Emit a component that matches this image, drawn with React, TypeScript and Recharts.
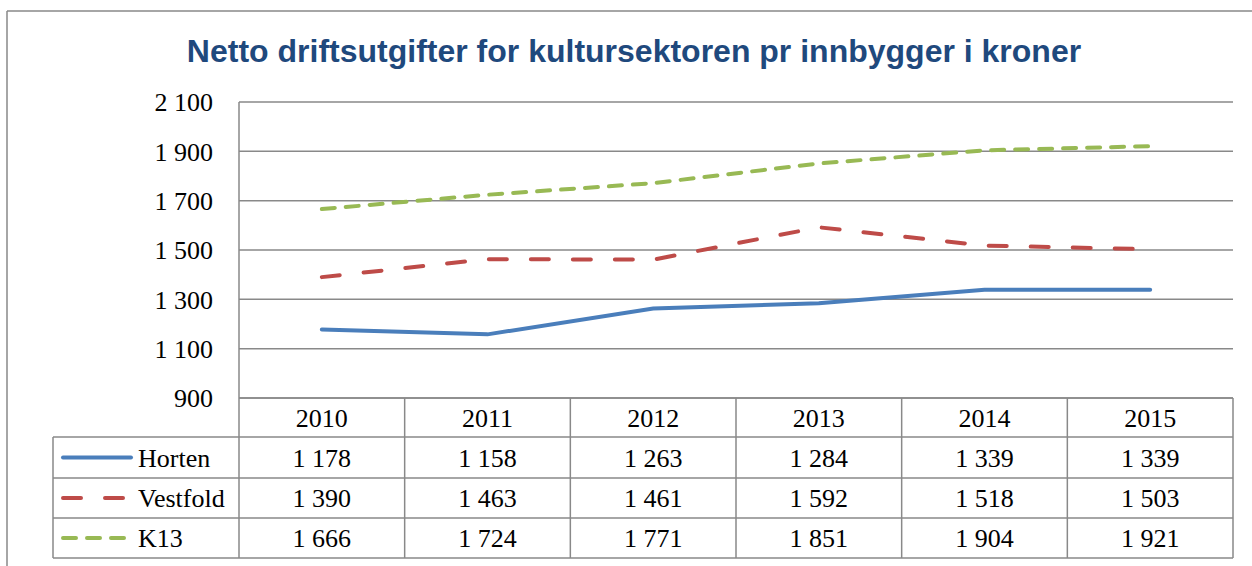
import React from 'react';
import { LineChart, Line, XAxis, YAxis, CartesianGrid } from 'recharts';

const years = ['2010', '2011', '2012', '2013', '2014', '2015'];
const horten = [1178, 1158, 1263, 1284, 1339, 1339];
const vestfold = [1390, 1463, 1461, 1592, 1518, 1503];
const k13 = [1666, 1724, 1771, 1851, 1904, 1921];
const yTicks = [900, 1100, 1300, 1500, 1700, 1900, 2100];
const title = 'Netto driftsutgifter for kultursektoren pr innbygger i kroner';

const series = [
  { key: 'Horten', values: horten, color: '#4A7EBB', dash: undefined as string | undefined },
  { key: 'Vestfold', values: vestfold, color: '#BE4B48', dash: '18 24' },
  { key: 'K13', values: k13, color: '#98B954', dash: '13 11' },
];

const data = years.map((y, i) => ({
  year: y,
  Horten: horten[i],
  Vestfold: vestfold[i],
  K13: k13[i],
}));

const fmt = (n: number) =>
  n >= 1000 ? `${Math.floor(n / 1000)} ${String(n % 1000).padStart(3, '0')}` : String(n);

const W = 1252;
const H = 566;
const PLOT_LEFT = 239;
const PLOT_RIGHT = 1233;
const PLOT_TOP = 102;
const PLOT_BOTTOM = 398;
const COL_W = (PLOT_RIGHT - PLOT_LEFT) / years.length;
const TABLE_LEFT = 53;
const ROW_Y = [398, 437, 478, 518, 558];
const GRID = '#898989';
const SERIF = '"Liberation Serif", "Times New Roman", serif';

export default function App() {
  return (
    <div style={{ position: 'relative', width: W, height: H, background: '#fff', overflow: 'hidden' }}>
      <style>{'body{margin:0}'}</style>
      <div style={{ position: 'absolute', left: 0, top: 0 }}>
        <LineChart
          width={W}
          height={H}
          data={data}
          margin={{ top: PLOT_TOP, right: W - PLOT_RIGHT, bottom: H - PLOT_BOTTOM, left: 0 }}
        >
          <CartesianGrid vertical={false} stroke={GRID} strokeWidth={1.5} />
          <XAxis dataKey="year" hide padding={{ left: COL_W / 2, right: COL_W / 2 }} />
          <YAxis
            width={PLOT_LEFT}
            domain={[900, 2100]}
            ticks={yTicks}
            interval={0}
            tickFormatter={fmt}
            tickLine={false}
            tickSize={0}
            tickMargin={26}
            axisLine={{ stroke: GRID, strokeWidth: 1.5 }}
            tick={{ fontFamily: SERIF, fontSize: 26, fill: '#000' }}
          />
          {series.map((s) => (
            <Line
              key={s.key}
              dataKey={s.key}
              stroke={s.color}
              strokeWidth={4}
              strokeDasharray={s.dash}
              strokeLinecap="round"
              dot={false}
              activeDot={false}
              type="linear"
              isAnimationActive={false}
            />
          ))}
        </LineChart>
      </div>
      <svg
        width={W}
        height={H}
        style={{ position: 'absolute', left: 0, top: 0, pointerEvents: 'none' }}
      >
        {/* outer frame */}
        <line x1={7} y1={11} x2={W} y2={11} stroke={GRID} strokeWidth={1.5} />
        <line x1={7} y1={11} x2={7} y2={H} stroke={GRID} strokeWidth={1.5} />
        {/* title */}
        <text
          x={634}
          y={62}
          textAnchor="middle"
          fontFamily='"Liberation Sans", Arial, sans-serif'
          fontWeight="bold"
          fontSize={32}
          fill="#1F497D"
        >
          {title}
        </text>
        {/* table horizontal lines */}
        {ROW_Y.slice(1).map((y) => (
          <line key={'h' + y} x1={TABLE_LEFT} y1={y} x2={PLOT_RIGHT} y2={y} stroke={GRID} strokeWidth={1.5} />
        ))}
        <line x1={PLOT_LEFT} y1={PLOT_BOTTOM} x2={PLOT_RIGHT} y2={PLOT_BOTTOM} stroke={GRID} strokeWidth={1.5} />
        {/* table vertical lines */}
        <line x1={TABLE_LEFT} y1={ROW_Y[1]} x2={TABLE_LEFT} y2={ROW_Y[4]} stroke={GRID} strokeWidth={1.5} />
        {years.map((_, i) => (
          <line
            key={'v' + i}
            x1={PLOT_LEFT + (i + 1) * COL_W}
            y1={ROW_Y[0]}
            x2={PLOT_LEFT + (i + 1) * COL_W}
            y2={ROW_Y[4]}
            stroke={GRID}
            strokeWidth={1.5}
          />
        ))}
        <line x1={PLOT_LEFT} y1={ROW_Y[0]} x2={PLOT_LEFT} y2={ROW_Y[4]} stroke={GRID} strokeWidth={1.5} />
        {/* header */}
        {years.map((y, i) => (
          <text
            key={'y' + y}
            x={PLOT_LEFT + (i + 0.5) * COL_W}
            y={(ROW_Y[0] + ROW_Y[1]) / 2}
            dy="0.35em"
            textAnchor="middle"
            fontFamily={SERIF}
            fontSize={26}
            fill="#000"
          >
            {y}
          </text>
        ))}
        {/* rows */}
        {series.map((s, r) => {
          const cy = (ROW_Y[r + 1] + ROW_Y[r + 2]) / 2;
          return (
            <g key={'r' + s.key}>
              <line
                x1={63}
                y1={cy}
                x2={131}
                y2={cy}
                stroke={s.color}
                strokeWidth={4}
                strokeDasharray={s.dash}
                strokeLinecap="round"
              />
              <text x={138} y={cy} dy="0.35em" fontFamily={SERIF} fontSize={26} fill="#000">
                {s.key}
              </text>
              {s.values.map((v, i) => (
                <text
                  key={i}
                  x={PLOT_LEFT + (i + 0.5) * COL_W}
                  y={cy}
                  dy="0.35em"
                  textAnchor="middle"
                  fontFamily={SERIF}
                  fontSize={26}
                  fill="#000"
                >
                  {fmt(v)}
                </text>
              ))}
            </g>
          );
        })}
      </svg>
    </div>
  );
}
